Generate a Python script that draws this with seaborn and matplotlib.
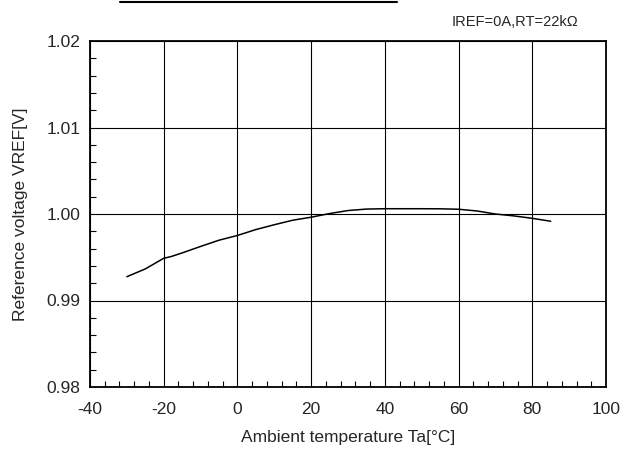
import numpy as np
import pandas as pd
import matplotlib
matplotlib.use("Agg")
import matplotlib.pyplot as plt
from matplotlib.lines import Line2D
from matplotlib.ticker import MultipleLocator
import seaborn as sns

temperature = [-30, -25, -20, -18, -15, -10, -5, 0, 5, 10, 15, 20, 25, 30, 35,
               40, 45, 50, 55, 60, 65, 70, 75, 80, 85]
vref = [0.99275, 0.99365, 0.99488, 0.99508, 0.99550, 0.99625, 0.99697, 0.99752,
        0.99820, 0.99876, 0.99928, 0.99963, 1.00005, 1.00040, 1.00057, 1.00061,
        1.00061, 1.00061, 1.00060, 1.00055, 1.00035, 1.00000, 0.99978, 0.99950,
        0.99916]
x_ticks = [-40, -20, 0, 20, 40, 60, 80, 100]
y_ticks = [0.98, 0.99, 1.00, 1.01, 1.02]
y_ticklabels = ["0.98", "0.99", "1.00", "1.01", "1.02"]

sns.set_style("white")
plt.rcParams['font.family'] = ['Liberation Sans', 'DejaVu Sans']

fig = plt.figure(figsize=(6.37, 4.53), dpi=100)
W, H = 637, 453
ax = fig.add_axes([90 / W, 1 - 387 / H, (606 - 90) / W, (387 - 41) / H])

df = pd.DataFrame({"T": temperature, "V": vref})
sns.lineplot(data=df, x="T", y="V", ax=ax, color="black", linewidth=1.1)

ax.set_xlim(-40, 100)
ax.set_ylim(0.98, 1.02)
ax.set_xticks(x_ticks)
ax.set_xticklabels([str(t) for t in x_ticks], fontsize=12.5)
ax.set_yticks(y_ticks)
ax.set_yticklabels(y_ticklabels, fontsize=12.5)
ax.xaxis.set_minor_locator(MultipleLocator(4))
ax.yaxis.set_minor_locator(MultipleLocator(0.002))
ax.tick_params(axis="x", which="major", length=0, pad=11)
ax.tick_params(axis="y", which="major", length=0, pad=7)
ax.tick_params(which="minor", direction="in", length=4, width=0.8, color="black",
               bottom=True, left=True)
ax.grid(True, which="major", color="black", linewidth=0.8)
for s in ax.spines.values():
    s.set_color("black")
    s.set_linewidth(1.3)

ax.set_xlabel("Ambient temperature Ta[°C]", fontsize=12.5)
ax.set_ylabel("Reference voltage VREF[V]", fontsize=12.5)
ax.xaxis.set_label_coords(0.5, -(430 - 387) / 346)
ax.yaxis.set_label_coords(-(90 - 28) / 516, 0.5)

fig.text(578 / W, 1 - 22 / H, "IREF=0A,RT=22kΩ", fontsize=10.5, ha="right", va="center")
fig.add_artist(Line2D([120 / W, 397 / W], [1 - 1.5 / H, 1 - 1.5 / H],
                      transform=fig.transFigure, color="black", linewidth=1.5))

fig.savefig("out.png", dpi=100)
